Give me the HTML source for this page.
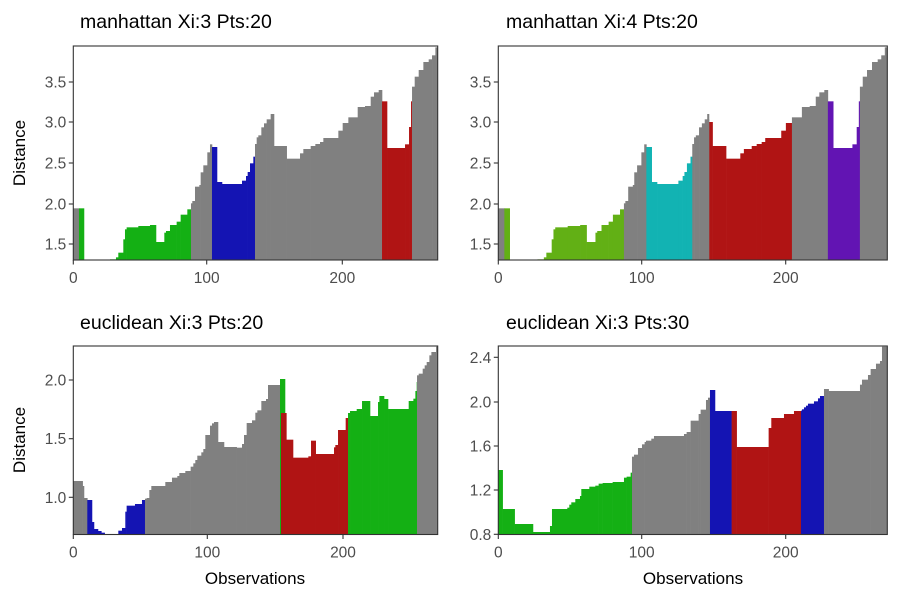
<!DOCTYPE html>
<html><head><meta charset="utf-8"><style>
body{margin:0;background:#fff;}
svg{display:block;font-family:"Liberation Sans",sans-serif;}
</style></head><body>
<svg id="s" width="900" height="600" xmlns="http://www.w3.org/2000/svg">
<rect width="900" height="600" fill="#fff"/>
<g id="g"></g>
<g font-size="19.5" fill="#000">
<text x="80" y="28">manhattan Xi:3 Pts:20</text>
<text x="506" y="28">manhattan Xi:4 Pts:20</text>
<text x="80" y="329">euclidean Xi:3 Pts:20</text>
<text x="506" y="329">euclidean Xi:3 Pts:30</text>
</g>
<g font-size="17" fill="#000" text-anchor="middle">
<text x="255" y="584">Observations</text>
<text x="693" y="584">Observations</text>
<text transform="translate(25,153) rotate(-90)">Distance</text>
<text transform="translate(25,440) rotate(-90)">Distance</text>
</g>
<g font-size="15.5" fill="#4d4d4d" id="t"></g>
</svg>
<script>
var NS="http://www.w3.org/2000/svg",G=document.getElementById('g'),T=document.getElementById('t');
function el(tag,a,p){var e=document.createElementNS(NS,tag);for(var k in a)e.setAttribute(k,a[k]);(p||G).appendChild(e);return e;}
function txt(x,y,s,anchor){var e=el('text',{x:x,y:y,'text-anchor':anchor},T);e.textContent=s;}
function draw(data,ox,oy,zl,zr,L,R,bottomZ,cols){
  data.forEach(function(d){
    var x0=L+(d[0]-zl)/(zr-zl)*(R-L),x1=L+(d[1]-zl)/(zr-zl)*(R-L);
    var y=oy+d[2]/3,b=oy+bottomZ/3;
    el('rect',{x:x0.toFixed(2),y:y.toFixed(2),width:(x1-x0+0.3).toFixed(2),height:(b-y).toFixed(2),fill:cols[d[3]]});
  });
}
function seg(list,c){return list.map(function(a){return [a[0],a[1],a[2],c];});}
var g0=[[40,57,505]];
var gr1=[[57,72,505],[150,168,658],[168,175,652],[175,190,638],[190,195,598],[195,200,568],[200,235,562],[235,270,558],[270,288,555],[288,313,606],[313,318,578],[318,330,573],[330,350,555],[350,362,545],[362,382,524],[382,393,508]];
var g1=[[393,397,490],[397,405,483],[405,418,440],[418,422,435],[422,430,397],[430,442,376],[442,450,337],[450,456,313]];
var bl=[[456,471,321],[471,486,426],[486,546,432],[546,558,422],[558,563,408],[563,570,396],[570,580,370],[580,585,350]];
var g2a=[[585,590,312],[590,595,292],[595,604,286],[604,612,262],[612,620,250],[620,632,238]];
var g2b=[[632,642,222]];
var g2c=[[642,680,318],[680,720,356],[720,730,340],[730,752,327],[752,766,318],[766,780,312],[780,790,306],[790,835,294],[835,848,272],[848,865,249]];
var g3=[[865,893,232],[893,915,201],[915,932,198],[932,942,170],[942,956,157],[956,966,150]];
var rd=[[966,981,184],[981,1035,324],[1035,1047,313],[1047,1053,261],[1053,1056,184]];
var g4=[[1056,1064,140],[1064,1076,110],[1076,1090,90],[1090,1106,66],[1106,1116,58],[1116,1126,46],[1126,1133,22]];
var P1=[].concat(seg(g0,0),seg(gr1,1),seg(g1,0),seg(bl,2),seg(g2a,0),seg(g2b,0),seg(g2c,0),seg(g3,0),seg(rd,3),seg(g4,0));
draw(P1,60,40,40,1133,73.3,437.7,660,['#808080','#14b014','#1414b3','#b01414']);
var P2=[].concat(seg(g0,0),seg(gr1,1),seg(g1,0),seg(bl,2),seg(g2a,0),[[632,642,246,3]],seg(g2c,3),seg(g3,0),seg(rd,4),seg(g4,0));
P2.push([627,632,222,0]);
draw(P2,480,40,40,1133,498.3,887.3,660,['#808080','#62b015','#12b3b3','#b01414','#6214b3']);
var P3=[].concat(
 seg([[40,68,423],[68,72,438],[72,82,474]],0),
 seg([[82,96,480],[96,102,546],[102,114,567],[114,124,573],[124,134,578],[134,175,582],[175,186,572],[186,196,564],[196,200,515],[200,225,497],[225,246,492],[246,255,480]],2),
 seg([[255,260,476],[260,268,474],[268,274,450],[274,316,438],[316,336,426],[336,352,413],[352,358,408],[358,376,399],[376,392,393],[392,400,380],[400,406,370],[406,412,360],[412,424,347],[424,430,337],[430,436,327],[436,450,285],[450,456,257],[456,462,250],[462,474,246],[474,492,306],[492,530,321],[530,546,323],[546,552,312],[552,560,285],[560,576,249],[576,586,241],[586,592,218],[592,604,211],[604,618,183],[618,624,177],[624,660,135]],0),
 seg([[660,675,117]],1),
 seg([[663,679,219],[679,699,299],[699,745,353],[745,753,349],[753,767,302],[767,822,342],[822,826,322],[826,834,315],[834,857,270],[857,864,234]],3),
 seg([[864,870,219],[870,890,213],[890,906,207],[906,930,183],[930,954,228],[954,958,186],[958,972,168],[972,984,177],[984,1046,207],[1046,1060,183],[1060,1066,176],[1066,1070,153],[1070,1071,126]],1),
 seg([[1071,1076,106],[1076,1088,101],[1088,1094,86],[1094,1100,76],[1100,1108,66],[1108,1114,46],[1114,1128,36],[1128,1133,20]],0));
draw(P3,60,340,40,1133,73.3,437.7,583,['#808080','#14b014','#1414b3','#b01414']);
var P4=[].concat(
 seg([[55,68,390],[68,104,507],[104,159,552],[159,210,576],[210,216,558],[216,262,507],[262,268,503],[268,274,494],[274,286,487],[286,300,477],[300,304,468],[304,328,447],[328,346,440],[346,356,437],[356,368,431],[368,398,429],[398,432,426],[432,440,413],[440,452,410],[452,456,398]],1),
 seg([[456,462,350],[462,474,344],[474,486,324],[486,494,313],[494,498,306],[498,514,302],[514,522,296],[522,612,288],[612,620,282],[620,632,276],[632,656,242],[656,662,222],[662,678,209],[678,684,180],[684,690,173]],0),
 seg([[690,705,150],[705,755,213]],2),
 seg([[755,770,213],[770,866,321],[866,874,264],[874,912,234],[912,942,222],[942,963,213]],3),
 seg([[963,966,212],[966,972,208],[972,978,202],[978,984,197],[984,1002,191],[1002,1014,184],[1014,1020,175],[1020,1032,168]],2),
 seg([[1032,1046,147],[1046,1140,153],[1140,1146,134],[1146,1164,119],[1164,1172,105],[1172,1188,87],[1188,1200,71],[1200,1206,63],[1206,1222,20]],0));
draw(P4,480,340,55,1222,498.3,887.3,583,['#808080','#14b014','#1414b3','#b01414']);
function frame(L,R,top,bot,yt,xt){
  el('rect',{x:L,y:top,width:R-L,height:bot-top,fill:'none',stroke:'#333','stroke-width':1.1});
  yt.forEach(function(a){el('line',{x1:L-4.5,x2:L,y1:a[0],y2:a[0],stroke:'#333','stroke-width':1.1});txt(L-7,a[0]+5.5,a[1],'end');});
  xt.forEach(function(a){el('line',{x1:a[0],x2:a[0],y1:bot,y2:bot+4.5,stroke:'#333','stroke-width':1.1});txt(a[0],bot+23,a[1],'middle');});
}
var ytop=[[82,'3.5'],[122,'3.0'],[163,'2.5'],[204,'2.0'],[244,'1.5']];
frame(73.3,437.7,46,260,ytop,[[73.3,'0'],[206.7,'100'],[342.3,'200']]);
frame(498.3,887.3,46,260,ytop,[[498.3,'0'],[641.7,'100'],[785.7,'200']]);
frame(73.3,437.7,346,534.5,[[380,'2.0'],[438.7,'1.5'],[497.3,'1.0']],[[73.3,'0'],[207.3,'100'],[343,'200']]);
frame(498.3,887.3,346,534.5,[[357.3,'2.4'],[402,'2.0'],[446,'1.6'],[490,'1.2'],[534.3,'0.8']],[[498.3,'0'],[641.7,'100'],[785.7,'200']]);
</script>
</body></html>
